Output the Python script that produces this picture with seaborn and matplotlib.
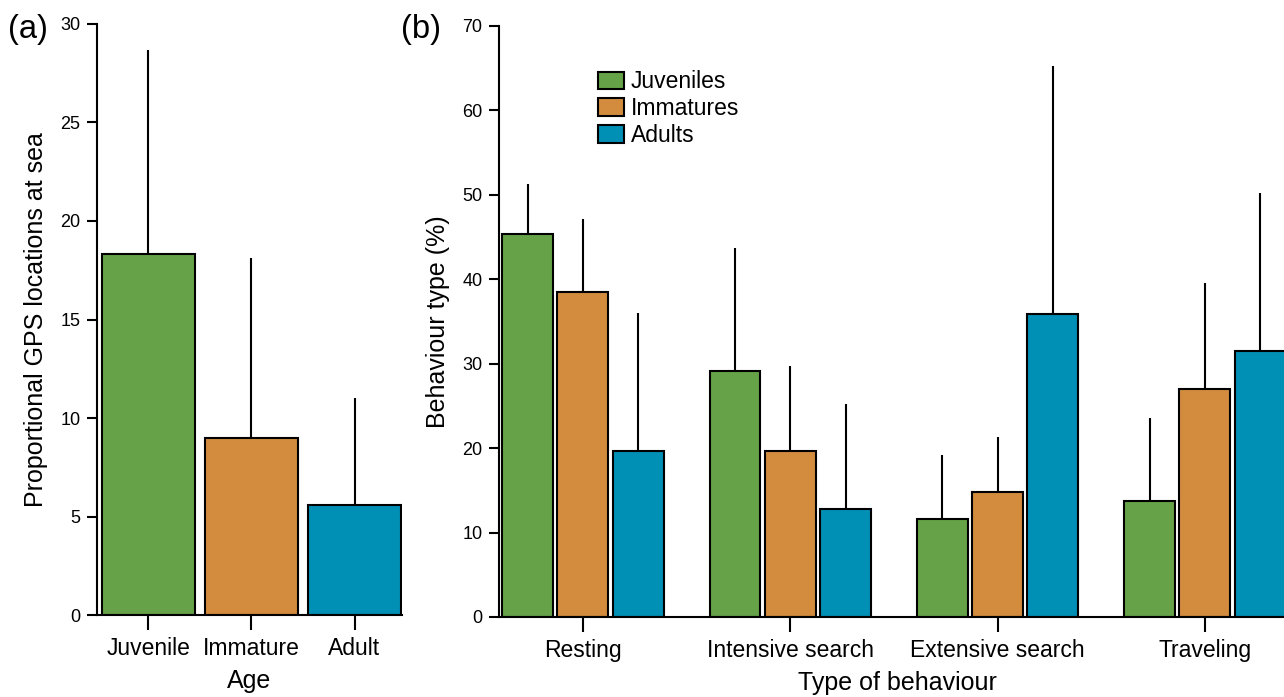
import numpy as np
import pandas as pd
import matplotlib
import matplotlib.pyplot as plt
import seaborn as sns

matplotlib.use('Agg')

# panel (a) - proportional GPS locations at sea by age
ages = ["Juvenile", "Immature", "Adult"]
gps_mean = [18.3, 9.0, 5.6]
gps_upper = [28.7, 18.1, 11.0]

# panel (b) - behaviour type by age class
behaviours = ["Resting", "Intensive search", "Extensive search", "Traveling"]
groups = ["Juveniles", "Immatures", "Adults"]
juv_mean = [45.4, 29.1, 11.6, 13.7]
juv_upper = [51.3, 43.7, 19.2, 23.6]
imm_mean = [38.5, 19.6, 14.8, 27.0]
imm_upper = [47.1, 29.7, 21.3, 39.5]
adu_mean = [19.7, 12.8, 35.9, 31.5]
adu_upper = [36.0, 25.2, 65.3, 50.2]

colors = ["#66A348", "#D38C3E", "#008FB5"]

sns.set_style('ticks')
plt.rcParams['font.family'] = ['Liberation Sans', 'DejaVu Sans']
plt.rcParams['axes.linewidth'] = 1.5
plt.rcParams['text.color'] = 'black'
plt.rcParams['axes.labelcolor'] = 'black'
plt.rcParams['xtick.color'] = 'black'
plt.rcParams['ytick.color'] = 'black'
plt.rcParams['axes.edgecolor'] = 'black'

df_a = pd.DataFrame({"age": ages, "value": gps_mean})
df_b = pd.DataFrame({
    "behaviour": behaviours * 3,
    "group": [g for g in groups for _ in behaviours],
    "value": juv_mean + imm_mean + adu_mean,
})
upper_b = [juv_upper, imm_upper, adu_upper]

fig = plt.figure(figsize=(12.84, 6.97), dpi=100)
ax1 = fig.add_axes([0.0755, 0.1176, 0.2375, 0.848])
ax2 = fig.add_axes([0.3886, 0.1148, 0.620, 0.848])

# (a)
sns.barplot(data=df_a, x="age", y="value", hue="age", palette=colors, legend=False,
            saturation=1, width=0.9, edgecolor="black", linewidth=1.5, ax=ax1, errorbar=None)
for bar, up in zip(ax1.patches, gps_upper):
    cx = bar.get_x() + bar.get_width() / 2
    ax1.vlines(cx, bar.get_height(), up, color="black", linewidth=1.5, zorder=1)
ax1.set_xlim(-0.5, 2.46)
ax1.set_ylim(0, 30)
ax1.set_yticks([0, 5, 10, 15, 20, 25, 30])
ax1.set_xlabel("Age", fontsize=18, labelpad=6)
ax1.set_ylabel("Proportional GPS locations at sea", fontsize=18, labelpad=9)

# (b)
sns.barplot(data=df_b, x="behaviour", y="value", hue="group", palette=colors, saturation=1,
            width=0.8, gap=0.08, edgecolor="black", linewidth=1.5, ax=ax2, errorbar=None)
for cont, ups in zip(ax2.containers, upper_b):
    for bar, up in zip(cont, ups):
        cx = bar.get_x() + bar.get_width() / 2
        ax2.vlines(cx, bar.get_height(), up, color="black", linewidth=1.5, zorder=1)
ax2.set_xlim(-0.405, 3.435)
ax2.set_ylim(0, 70)
ax2.set_yticks(range(0, 71, 10))
ax2.set_xlabel("Type of behaviour", fontsize=18, labelpad=6)
ax2.set_ylabel("Behaviour type (%)", fontsize=18, labelpad=9)
handles, labels = ax2.get_legend_handles_labels()
ax2.legend(handles, labels, loc="upper left", bbox_to_anchor=(0.124, 0.925),
           frameon=False, fontsize=16.5, borderpad=0, borderaxespad=0,
           handlelength=1.14, handleheight=0.79, handletextpad=0.3, labelspacing=0.17)

for ax in (ax1, ax2):
    sns.despine(ax=ax)
    ax.tick_params(axis="y", length=7, width=1.5, labelsize=13, pad=5)
    ax.tick_params(axis="x", length=11, width=1.5, labelsize=16.5, pad=5)

fig.text(0.006, 0.958, "(a)", fontsize=23.5, va="center")
fig.text(0.312, 0.958, "(b)", fontsize=23.5, va="center")

fig.savefig("out.png", dpi=100)
